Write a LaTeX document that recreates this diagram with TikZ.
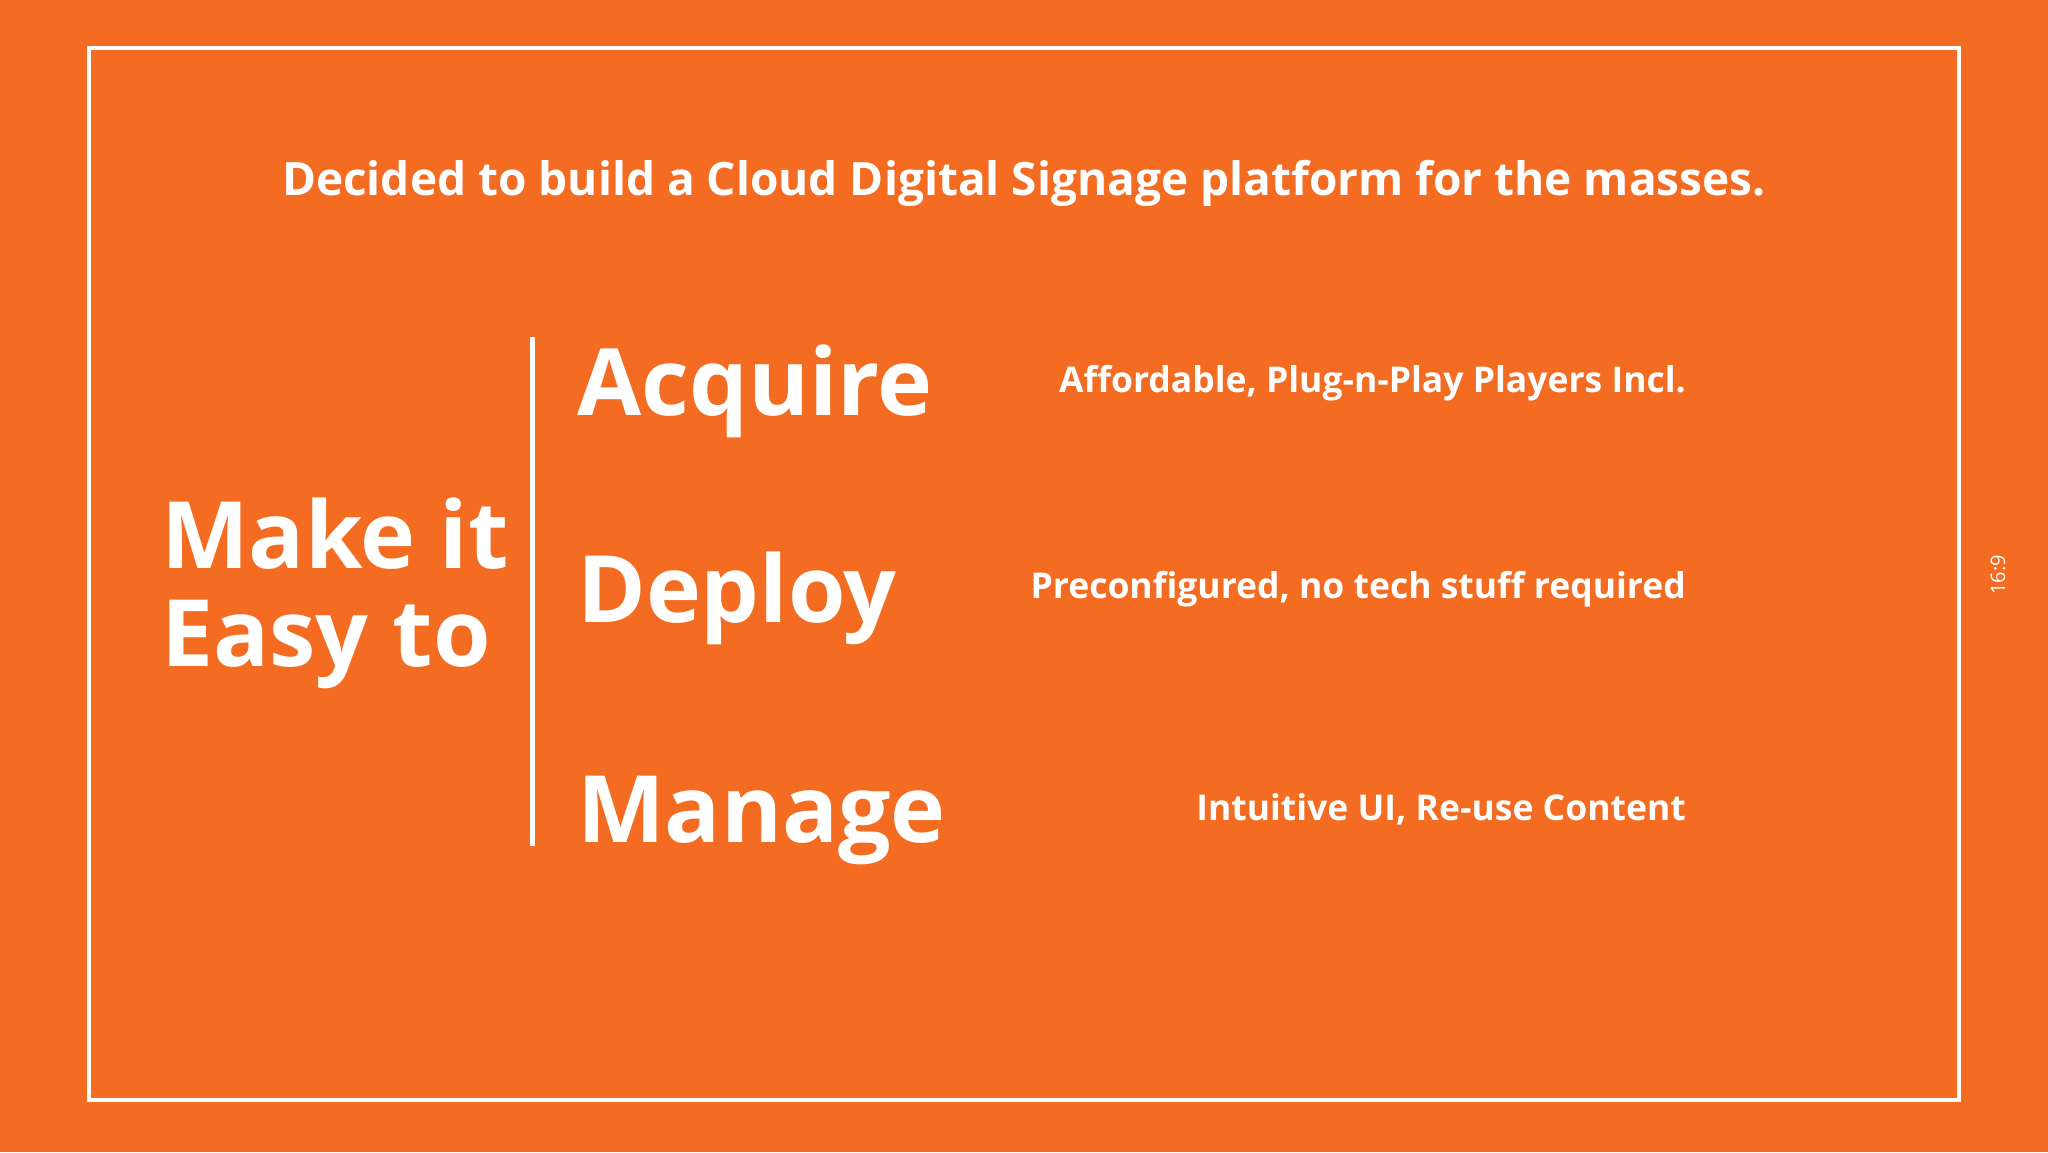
\documentclass[tikz,border=0pt]{standalone}
\usepackage{fontspec}
\setmainfont{Open Sans}
\definecolor{bg}{HTML}{F36C21}
\begin{document}
\begin{tikzpicture}[x=1pt,y=-1pt,
  txt/.style={text=white,inner sep=0pt},
  big/.style={txt,font=\fontsize{93}{93}\selectfont\bfseries,anchor=base west},
  small/.style={txt,font=\fontsize{35.5}{40}\selectfont\bfseries,anchor=base east}]
\fill[bg] (0,0) rectangle (2048,1152);
\useasboundingbox (0,0) rectangle (2048,1152);
\node[draw=white,line width=4pt,minimum width=1870pt,minimum height=1052pt,inner sep=0pt] (frame) at (1024,574) {};
\node[txt,font=\fontsize{46}{48}\selectfont\bfseries,anchor=base] (title) at (1024,195) {Decided to build a Cloud Digital Signage platform for the masses.};
\node[big,align=left,font=\fontsize{93}{98}\selectfont\bfseries] (make) at (161,666) {Make it\\Easy to};
\coordinate (lt) at (532,337); \coordinate (lb) at (532,846);
\draw[white,line width=5pt] (lt) -- (lb);
\node[big] (acq) at (577,415) {Acquire};
\node[big] (dep) at (577,622) {Deploy};
\node[big] (man) at (577,842) {Manage};
\node[small] (a2) at (1686,392) {Affordable, Plug-n-Play Players Incl.};
\node[small] (d2) at (1686,598) {Preconfigured, no tech stuff required};
\node[small] (m2) at (1686,820) {Intuitive UI, Re-use Content};
\node[txt,font=\fontsize{20}{20}\selectfont,rotate=90] (r) at (1998,575) {16:9};
\end{tikzpicture}
\end{document}
